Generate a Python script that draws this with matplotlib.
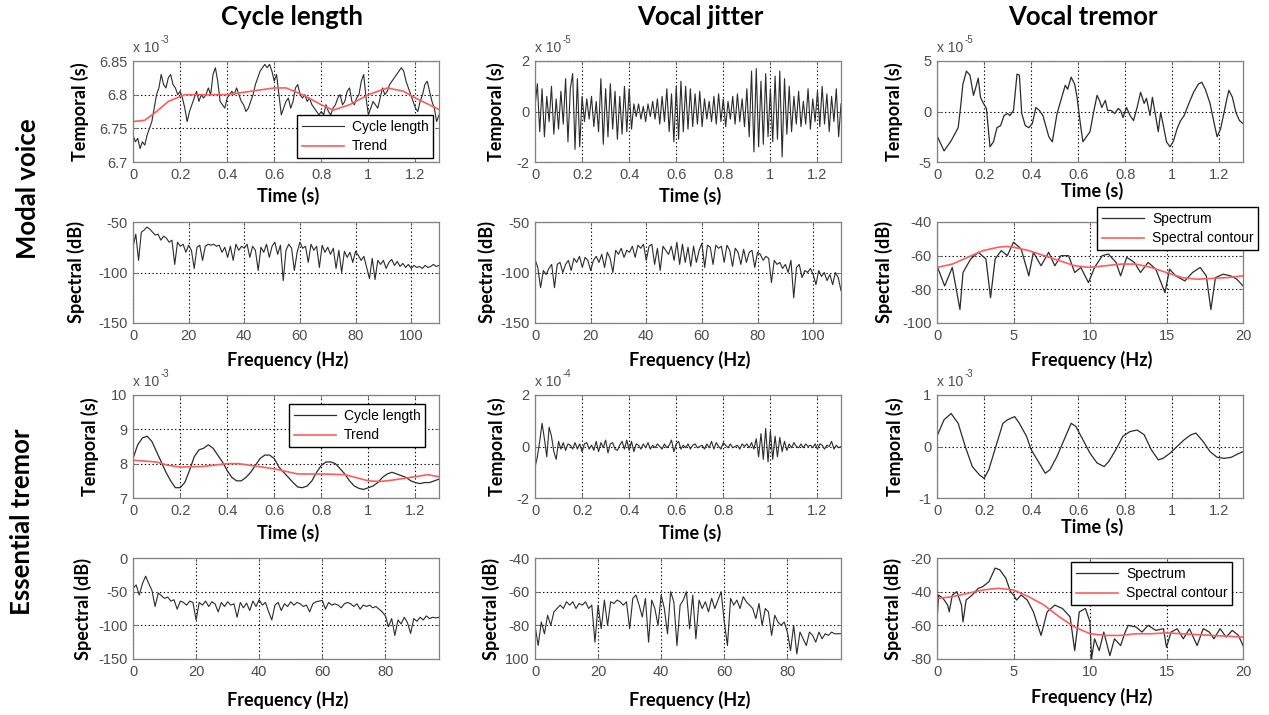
import numpy as np
import matplotlib.pyplot as plt

# ---------------- data ----------------
# modal voice, cycle length (x 1e-3 s), sampled every 0.01 s
mod_cycle = [6.74, 6.73, 6.735, 6.72, 6.73, 6.725, 6.74, 6.75, 6.76, 6.78,
             6.80, 6.81, 6.83, 6.815, 6.81, 6.825, 6.83, 6.815, 6.81, 6.80,
             6.805, 6.795, 6.78, 6.76, 6.775, 6.785, 6.795, 6.805, 6.79, 6.80,
             6.795, 6.80, 6.81, 6.80, 6.83, 6.84, 6.82, 6.79, 6.785, 6.78,
             6.795, 6.80, 6.805, 6.80, 6.81, 6.80, 6.79, 6.785, 6.775, 6.78,
             6.79, 6.80, 6.815, 6.825, 6.835, 6.84, 6.845, 6.84, 6.845, 6.835,
             6.82, 6.83, 6.80, 6.77, 6.78, 6.79, 6.795, 6.78, 6.79, 6.81,
             6.815, 6.80, 6.795, 6.80, 6.79, 6.795, 6.785, 6.78, 6.775, 6.77,
             6.775, 6.77, 6.785, 6.775, 6.77, 6.78, 6.785, 6.795, 6.80, 6.785,
             6.79, 6.805, 6.81, 6.79, 6.785, 6.795, 6.80, 6.82, 6.83, 6.795,
             6.77, 6.78, 6.79, 6.785, 6.78, 6.795, 6.81, 6.80, 6.805, 6.815,
             6.82, 6.825, 6.83, 6.835, 6.84, 6.835, 6.82, 6.81, 6.80, 6.79,
             6.78, 6.775, 6.79, 6.80, 6.815, 6.82, 6.805, 6.79, 6.78, 6.76, 6.77]
mod_trend_t = [0, 0.05, 0.1, 0.15, 0.22, 0.3, 0.4, 0.5, 0.6, 0.65, 0.72, 0.8,
               0.85, 0.92, 1.0, 1.08, 1.15, 1.2, 1.3]
mod_trend = [6.76, 6.762, 6.775, 6.79, 6.80, 6.80, 6.80, 6.805, 6.81, 6.81,
             6.80, 6.785, 6.777, 6.785, 6.80, 6.81, 6.805, 6.795, 6.778]

# modal voice, cycle length spectrum (dB), 1 Hz steps 0..110
mod_cycle_spec = [-75, -62, -88, -60, -58, -55, -57, -60, -63, -62, -68,
                  -64, -66, -70, -68, -92, -70, -74, -72, -80, -73,
                  -78, -96, -75, -73, -88, -74, -72, -73, -72, -74,
                  -73, -80, -75, -85, -74, -88, -72, -78, -74, -76,
                  -72, -85, -74, -78, -98, -75, -80, -72, -85, -74,
                  -70, -82, -73, -108, -78, -72, -76, -98, -80, -70,
                  -76, -74, -90, -72, -78, -74, -95, -73, -80, -75,
                  -82, -76, -96, -78, -100, -79, -85, -80, -90, -79,
                  -83, -88, -84, -95, -106, -86, -107, -88, -92, -88,
                  -96, -90, -87, -93, -89, -94, -91, -95, -92, -96,
                  -93, -95, -94, -96, -93, -95, -94, -92, -94, -93]

# modal voice, vocal jitter (x 1e-5 s), every 0.01 s
mod_jitter = [0.2, 1.1, -0.8, 0.9, -1.0, 0.6, -0.4, 1.0, -0.9, 0.5,
              -0.7, 0.8, -0.5, 1.3, -1.2, 0.9, 1.5, -1.5, 1.3, -1.4,
              0.6, -0.4, 0.5, -0.3, 0.6, -0.6, 0.4, -0.8, 1.3, -1.3,
              0.9, -1.0, 1.1, -0.7, 0.8, -1.1, 0.6, -0.9, 1.0, -0.8,
              0.9, -0.7, 0.3, -0.2, 0.3, -0.3, 0.2, -0.4, 0.3, -0.2,
              0.4, -0.3, 0.5, -0.5, 0.6, -0.4, 0.9, -0.8, 0.7, -1.2,
              1.0, -1.1, 1.2, -0.8, 1.0, -0.7, 0.9, -0.6, 0.7, -0.5,
              0.8, -0.6, 0.5, -0.3, 0.4, -0.4, 0.6, -0.5, 0.7, -0.4,
              0.5, -0.6, 0.4, -0.3, 0.6, -0.5, 0.7, -0.4, 0.5, -0.6,
              0.9, -1.0, 1.6, -1.6, 1.7, -1.4, 1.2, -1.3, 1.5, -1.0,
              0.9, -1.2, 1.4, -1.1, 1.6, -1.8, 1.3, -0.9, 1.0, -0.8,
              0.6, -0.5, 0.8, -0.6, 0.4, -0.5, 0.9, -0.7, 0.5, -0.4,
              0.8, -0.6, 1.0, -0.5, 0.7, -0.8, 0.6, -0.4, 0.9, -1.0, 0.3]

# modal voice, jitter spectrum (dB), 1 Hz steps 0..110
mod_jitter_spec = [-87, -95, -115, -98, -102, -96, -92, -115, -92, -90, -100,
                   -92, -88, -98, -86, -90, -84, -95, -85, -88, -98,
                   -88, -84, -90, -82, -95, -80, -86, -100, -78, -82,
                   -76, -85, -78, -80, -74, -85, -73, -76, -72, -88,
                   -74, -72, -92, -76, -98, -74, -78, -82, -74, -88,
                   -70, -92, -72, -90, -75, -94, -74, -90, -78, -71,
                   -95, -73, -75, -92, -73, -76, -74, -90, -73, -78,
                   -94, -76, -80, -92, -77, -90, -80, -78, -95, -80,
                   -82, -88, -84, -86, -110, -88, -92, -90, -96, -92,
                   -100, -88, -125, -95, -92, -105, -98, -100, -96, -102,
                   -112, -98, -104, -100, -108, -102, -112, -100, -105, -118]

# modal voice, vocal tremor (x 1e-5 s)
mod_trem_t = [0, 0.03, 0.06, 0.09, 0.10, 0.11, 0.125, 0.14, 0.155, 0.165, 0.175,
              0.185, 0.195, 0.21, 0.225, 0.24, 0.255, 0.27, 0.285, 0.30, 0.31,
              0.325, 0.34, 0.35, 0.36, 0.375, 0.39, 0.405, 0.42, 0.435, 0.45,
              0.475, 0.49, 0.51, 0.53, 0.545, 0.555, 0.57, 0.585, 0.595, 0.61,
              0.62, 0.635, 0.65, 0.665, 0.68, 0.69, 0.70, 0.715, 0.725, 0.74,
              0.755, 0.77, 0.78, 0.79, 0.805, 0.82, 0.835, 0.85, 0.865, 0.88,
              0.89, 0.905, 0.915, 0.93, 0.94, 0.95, 0.96, 0.975, 0.99, 1.005,
              1.02, 1.035, 1.05, 1.07, 1.09, 1.11, 1.125, 1.14, 1.16, 1.175,
              1.19, 1.205, 1.215, 1.23, 1.24, 1.255, 1.27, 1.285, 1.3]
mod_trem = [-2.4, -3.9, -2.9, -1.6, 0.4, 2.7, 4.0, 3.6, 1.6, 2.4, 3.3,
            1.4, 0.9, 0.3, -3.5, -3.0, -1.6, -1.4, -0.4, -0.2, -0.4,
            0.1, 3.7, 3.6, -0.2, -1.4, -1.6, -1.2, 0.4, 0.1, -0.4,
            -2.5, -3.0, -0.2, 1.4, 2.6, 2.2, 3.4, 2.7, 1.4, -1.4,
            -3.0, -2.5, -2.0, -0.1, 1.6, 1.1, 0.4, 1.1, 0.1, 0.1,
            -0.2, 0.3, 0.1, -0.6, 0.4, -0.4, -0.9, 0.4, 1.9, 0.8,
            1.3, -0.4, 1.4, -0.6, -2.0, -0.1, -1.2, -3.0, -3.5, -2.9,
            -1.7, -0.9, -0.4, 0.8, 1.9, 2.7, 2.9, 2.2, 0.8, -0.9,
            -2.5, -1.7, -0.6, 1.1, 2.1, 1.4, -0.1, -0.9, -1.2]

# modal voice, tremor spectrum and contour (dB)
mod_trem_f = [0, 0.5, 1.0, 1.5, 1.7, 2.2, 2.7, 3.2, 3.5, 3.8, 4.2, 4.6, 5.0,
              5.5, 6.0, 6.3, 6.8, 7.3, 7.7, 8.1, 8.6, 9.0, 9.4, 9.9, 10.3,
              10.8, 11.2, 11.7, 12.0, 12.4, 12.9, 13.3, 13.8, 14.3, 14.9,
              15.2, 15.6, 16.2, 16.7, 17.2, 17.6, 17.9, 18.2, 18.7, 19.2,
              19.6, 20]
mod_trem_spec = [-66, -78, -67, -92, -70, -62, -58, -62, -85, -62, -57, -60, -52,
                 -56, -72, -58, -66, -58, -66, -60, -60, -70, -67, -76, -67,
                 -60, -59, -64, -72, -61, -64, -70, -64, -68, -82,
                 -68, -72, -75, -70, -67, -72, -92, -73, -71, -72,
                 -74, -78]
mod_cont_f = [0, 1, 2, 3, 4, 4.5, 5, 6, 7, 8, 9, 10, 11, 12, 13, 14, 15, 16,
              17, 18, 19, 20]
mod_cont = [-67, -65, -61, -57, -55, -54.5, -55, -57, -60, -63, -66, -67,
            -66, -65, -65, -67, -70, -73, -74, -73.5, -73, -72]

# essential tremor, cycle length (x 1e-3 s), every 0.02 s
et_cycle = [8.15, 8.55, 8.75, 8.8, 8.65, 8.35, 8.05, 7.75, 7.5, 7.3,
            7.3, 7.45, 7.8, 8.2, 8.4, 8.45, 8.55, 8.45, 8.25, 8.05,
            7.8, 7.6, 7.5, 7.5, 7.6, 7.75, 7.95, 8.15, 8.25, 8.25,
            8.15, 7.9, 7.75, 7.6, 7.45, 7.32, 7.3, 7.35, 7.5, 7.75,
            7.95, 8.05, 8.05, 8.0, 7.85, 7.7, 7.5, 7.35, 7.28, 7.25,
            7.3, 7.35, 7.45, 7.6, 7.7, 7.75, 7.7, 7.65, 7.6, 7.5,
            7.45, 7.42, 7.45, 7.45, 7.5, 7.55]
et_trend_t = [0, 0.1, 0.15, 0.2, 0.3, 0.4, 0.45, 0.5, 0.6, 0.7, 0.8, 0.9,
              1.0, 1.05, 1.1, 1.2, 1.25, 1.3]
et_trend = [8.1, 8.05, 7.95, 7.9, 7.92, 8.0, 8.0, 7.95, 7.85, 7.7, 7.7, 7.68,
            7.5, 7.48, 7.52, 7.62, 7.68, 7.62]

# essential tremor, cycle length spectrum (dB), 1 Hz steps 0..97
et_cycle_spec = [-45, -40, -55, -38, -27, -38, -48, -72, -52, -56, -60,
                 -58, -64, -62, -76, -64, -66, -70, -64, -66, -92,
                 -66, -70, -64, -72, -65, -68, -80, -66, -72, -65,
                 -70, -68, -88, -66, -74, -67, -78, -64, -72, -62,
                 -70, -66, -80, -92, -70, -66, -78, -68, -72, -65,
                 -70, -66, -68, -72, -70, -80, -68, -65, -64, -63,
                 -76, -66, -70, -68, -70, -74, -68, -66, -68, -72,
                 -68, -76, -70, -72, -70, -74, -72, -76, -80, -86,
                 -102, -90, -115, -92, -98, -88, -96, -112, -90, -94,
                 -88, -92, -86, -90, -88, -89, -88]

# essential tremor, vocal jitter (x 1e-4 s), every 0.01 s
et_jitter = [-0.8, -0.4, 0.2, 0.9, 0.3, -0.4, 0.75, 0.4, -0.2, -0.5,
             0.2, -0.1, 0.15, -0.15, 0.1, 0.05, -0.1, 0.15, -0.1, 0.1,
             -0.2, 0.1, 0.15, -0.1, 0.05, -0.15, 0.2, -0.2, 0.15, -0.05,
             0.25, -0.25, 0.1, 0.15, -0.1, -0.15, 0.05, 0.2, -0.1, 0.25,
             -0.15, 0.2, -0.2, 0.1, 0.05, -0.1, 0.1, -0.05, 0.15, -0.1,
             0.05, -0.05, 0.1, 0.0, -0.1, 0.1, -0.05, 0.05, 0.25, -0.2,
             0.1, 0.2, -0.1, 0.05, -0.05, 0.1, -0.1, 0.05, 0.1, -0.05,
             0.0, 0.05, -0.1, 0.1, -0.05, 0.2, -0.1, 0.15, 0.0, -0.1,
             0.15, 0.05, -0.05, 0.1, -0.05, 0.0, 0.05, -0.1, 0.1, 0.0,
             0.1, -0.05, 0.15, -0.1, 0.3, -0.4, 0.5, -0.5, 0.7, -0.6,
             0.6, -0.5, 0.4, -0.4, 0.35, -0.2, 0.2, -0.15, 0.1, -0.05,
             0.15, 0.0, -0.05, 0.1, -0.05, 0.1, 0.0, 0.05, -0.05, 0.1,
             -0.1, 0.1, 0.05, -0.1, 0.05, 0.0, 0.2, -0.1, 0.05, -0.05, 0.0]

# essential tremor, jitter spectrum (dB), 1 Hz steps 0..97
et_jitter_spec = [-80, -92, -78, -85, -74, -80, -72, -70, -68, -70, -66,
                  -68, -66, -70, -67, -68, -66, -70, -68, -90, -68,
                  -82, -65, -80, -66, -67, -65, -66, -68, -66, -82,
                  -64, -62, -68, -75, -64, -90, -65, -70, -80, -62,
                  -70, -85, -60, -66, -92, -68, -65, -60, -82, -62,
                  -88, -65, -70, -66, -72, -64, -70, -65, -60, -78,
                  -92, -64, -68, -65, -70, -63, -66, -68, -70, -76,
                  -67, -80, -70, -72, -86, -74, -78, -80, -78, -84,
                  -95, -80, -97, -84, -88, -92, -84, -86, -90, -84,
                  -88, -85, -86, -84, -85, -85, -85]

# essential tremor, vocal tremor (x 1e-3 s)
et_trem_t = [0, 0.03, 0.06, 0.09, 0.12, 0.15, 0.18, 0.2, 0.22, 0.25, 0.28,
             0.30, 0.33, 0.35, 0.38, 0.40, 0.43, 0.46, 0.48, 0.51, 0.54,
             0.57, 0.59, 0.62, 0.65, 0.68, 0.71, 0.73, 0.76, 0.79, 0.82,
             0.85, 0.88, 0.91, 0.94, 0.96, 0.99, 1.02, 1.05, 1.08, 1.1,
             1.13, 1.16, 1.19, 1.22, 1.25, 1.28, 1.3]
et_trem = [0.2, 0.52, 0.64, 0.45, 0.0, -0.39, -0.55, -0.62, -0.45, 0.0, 0.45,
           0.52, 0.58, 0.45, 0.2, -0.06, -0.29, -0.52, -0.45, -0.19, 0.13,
           0.45, 0.39, 0.13, -0.13, -0.32, -0.39, -0.29, -0.06, 0.2, 0.29,
           0.32, 0.23, -0.06, -0.26, -0.23, -0.13, 0.0, 0.13, 0.23, 0.26,
           0.1, -0.1, -0.21, -0.23, -0.21, -0.14, -0.1]

# essential tremor, tremor spectrum and contour (dB)
et_trem_f = [0, 0.1, 0.4, 0.7, 0.8, 1.0, 1.3, 1.6, 1.7, 1.9, 2.3, 2.7, 3.0,
             3.4, 3.8, 4.1, 4.5, 4.8, 5.0, 5.2, 5.5, 5.9, 6.3, 6.8, 7.2,
             7.7, 8.2, 8.7, 9.0, 9.3, 9.7, 10.0, 10.1, 10.3, 10.6, 10.9,
             11.3, 11.6, 12.0, 12.3, 12.5, 13.0, 13.4, 13.8, 14.3, 14.8,
             15.0, 15.3, 15.7, 16.1, 16.5, 17.0, 17.4, 17.8, 18.1, 18.5,
             18.9, 19.3, 19.7, 20]
et_trem_spec = [-58, -42, -44, -48, -52, -42, -40, -48, -58, -45, -42, -38, -37,
                -34, -26, -27, -32, -40, -42, -45, -42, -45, -52, -66, -52,
                -48, -50, -55, -75, -52, -50, -58, -80, -68, -75, -64,
                -78, -68, -72, -64, -60, -61, -64, -60, -63, -62,
                -73, -64, -62, -68, -62, -72, -62, -64, -68, -62,
                -67, -63, -66, -72]
et_cont_f = [0, 1, 2, 3, 4, 5, 6, 7, 8, 9, 10, 11, 12, 13, 14, 15, 16, 17,
             18, 19, 20]
et_cont = [-44, -43, -41, -39, -38, -39, -43, -48, -55, -61, -65, -66, -66,
           -65, -65, -64.5, -65, -65.5, -66, -66.5, -67]

# ---------------- figure ----------------
W, H = 1269, 715
fig = plt.figure(figsize=(W / 100, H / 100), dpi=100)

BOLD = 'Lato'
TICK = 'Liberation Sans'
LINE = '#2b2b2b'
RED = '#ff5c5c'
GRAY = '#4d4d4d'

col_left = [133, 535, 937]
row_top = [61, 222, 395, 558]
row_bot = [162, 323, 498, 659]
AW = 306


def fx(px):
    return px / W


def fy(py):
    return 1 - py / H


def make_axes(c, r, xlim, xticks, ylim, yticks, xtl=None, ytl=None):
    left = col_left[c]
    ax = fig.add_axes([fx(left), fy(row_bot[r]), AW / W,
                       (row_bot[r] - row_top[r]) / H])
    ax.set_xlim(xlim)
    ax.set_ylim(ylim)
    ax.set_xticks(xticks)
    ax.set_yticks(yticks)
    ax.set_xticklabels(xtl if xtl else ['%g' % v for v in xticks])
    ax.set_yticklabels(ytl if ytl else ['%g' % v for v in yticks])
    ax.tick_params(direction='in', length=3, width=0.6, colors='#666666',
                   labelcolor=GRAY, labelsize=10.5, top=True, right=True, pad=4)
    for lab in ax.get_xticklabels() + ax.get_yticklabels():
        lab.set_fontfamily(TICK)
    for s in ax.spines.values():
        s.set_color('#808080')
        s.set_linewidth(0.9)
    ax.grid(True, color='k', linestyle=(0, (1.2, 2.2)), linewidth=0.8)
    return ax


def offset_text(c, r, exp):
    left = col_left[c]
    top = row_top[r]
    fig.text(fx(left), fy(top - 13), 'x 10', fontsize=10, family=TICK,
             color=GRAY, ha='left', va='center')
    fig.text(fx(left + 28), fy(top - 21), exp, fontsize=7, family=TICK,
             color=GRAY, ha='left', va='center')


def labels(c, r, xlab, ylab, xlab_y, ylab_x):
    left = col_left[c]
    fig.text(fx(left + AW / 2 + 2), fy(xlab_y), xlab, fontsize=13,
             family=BOLD, weight='bold', ha='center', va='center')
    fig.text(fx(ylab_x), fy((row_top[r] + row_bot[r]) / 2), ylab,
             fontsize=13, family=BOLD, weight='bold', rotation=90,
             ha='center', va='center')


def add_legend(ax, x, y):
    ax.legend(loc='upper left', bbox_to_anchor=(fx(x), fy(y)),
              bbox_transform=fig.transFigure, borderaxespad=0, fancybox=False,
              edgecolor='k', framealpha=1, handlelength=3.0, borderpad=0.35,
              labelspacing=0.4, handletextpad=0.6,
              prop={'family': TICK, 'size': 10})


time_ticks = [0, 0.2, 0.4, 0.6, 0.8, 1.0, 1.2]
time_tl = ['0', '0.2', '0.4', '0.6', '0.8', '1', '1.2']

# --- modal voice, cycle length ---
ax = make_axes(0, 0, (0, 1.3), time_ticks, (6.7, 6.85),
               [6.7, 6.75, 6.8, 6.85], xtl=time_tl,
               ytl=['6.7', '6.75', '6.8', '6.85'])
t = np.arange(len(mod_cycle)) * 0.01
ax.plot(t, mod_cycle, color=LINE, lw=0.8, label='Cycle length')
ax.plot(mod_trend_t, mod_trend, color=RED, lw=1.2, label='Trend')
add_legend(ax, 297, 115)
offset_text(0, 0, '-3')
labels(0, 0, 'Time (s)', 'Temporal (s)', 196, 80)

ax = make_axes(0, 1, (0, 110), [0, 20, 40, 60, 80, 100], (-150, -50),
               [-150, -100, -50])
ax.plot(np.arange(len(mod_cycle_spec)), mod_cycle_spec, color=LINE, lw=0.8)
labels(0, 1, 'Frequency (Hz)', 'Spectral (dB)', 360, 76)

# --- modal voice, vocal jitter ---
ax = make_axes(1, 0, (0, 1.3), time_ticks, (-2, 2), [-2, 0, 2], xtl=time_tl)
t = np.arange(len(mod_jitter)) * 0.01
ax.plot(t, mod_jitter, color=LINE, lw=0.8)
ax.axhline(2, color='k', linestyle=(0, (1.2, 2.2)), lw=0.8, clip_on=False)
offset_text(1, 0, '-5')
labels(1, 0, 'Time (s)', 'Temporal (s)', 196, 496)

ax = make_axes(1, 1, (0, 110), [0, 20, 40, 60, 80, 100], (-150, -50),
               [-150, -100, -50])
ax.plot(np.arange(len(mod_jitter_spec)), mod_jitter_spec, color=LINE, lw=0.8)
labels(1, 1, 'Frequency (Hz)', 'Spectral (dB)', 360, 487)

# --- modal voice, vocal tremor ---
ax = make_axes(2, 0, (0, 1.3), time_ticks, (-5, 5), [-5, 0, 5], xtl=time_tl)
ax.plot(mod_trem_t, mod_trem, color=LINE, lw=0.9)
offset_text(2, 0, '-5')
labels(2, 0, 'Time (s)', 'Temporal (s)', 191, 894)

ax = make_axes(2, 1, (0, 20), [0, 5, 10, 15, 20], (-100, -40),
               [-100, -80, -60, -40])
ax.plot(mod_trem_f, mod_trem_spec, color=LINE, lw=0.9, label='Spectrum')
ax.plot(mod_cont_f, mod_cont, color=RED, lw=1.2, label='Spectral contour')
add_legend(ax, 1097, 207)
labels(2, 1, 'Frequency (Hz)', 'Spectral (dB)', 360, 884)

# --- essential tremor, cycle length ---
ax = make_axes(0, 2, (0, 1.3), time_ticks, (7, 10), [7, 8, 9, 10],
               xtl=time_tl)
t = np.arange(len(et_cycle)) * 0.02
ax.plot(t, et_cycle, color=LINE, lw=0.9, label='Cycle length')
ax.plot(et_trend_t, et_trend, color=RED, lw=1.2, label='Trend')
add_legend(ax, 289, 404)
offset_text(0, 2, '-3')
labels(0, 2, 'Time (s)', 'Temporal (s)', 533, 90)

ax = make_axes(0, 3, (0, 97), [0, 20, 40, 60, 80], (-150, 0),
               [-150, -100, -50, 0])
ax.plot(np.arange(len(et_cycle_spec)), et_cycle_spec, color=LINE, lw=0.8)
labels(0, 3, 'Frequency (Hz)', 'Spectral (dB)', 700, 83)

# --- essential tremor, vocal jitter ---
ax = make_axes(1, 2, (0, 1.3), time_ticks, (-2, 2), [-2, 0, 2], xtl=time_tl)
t = np.arange(len(et_jitter)) * 0.01
ax.plot(t, et_jitter, color=LINE, lw=0.8)
offset_text(1, 2, '-4')
labels(1, 2, 'Time (s)', 'Temporal (s)', 533, 497)

ax = make_axes(1, 3, (0, 97), [0, 20, 40, 60, 80], (-100, -40),
               [-100, -80, -60, -40], ytl=['100', '-80', '-60', '-40'])
ax.plot(np.arange(len(et_jitter_spec)), et_jitter_spec, color=LINE, lw=0.8)
labels(1, 3, 'Frequency (Hz)', 'Spectral (dB)', 700, 491)

# --- essential tremor, vocal tremor ---
ax = make_axes(2, 2, (0, 1.3), time_ticks, (-1, 1), [-1, 0, 1], xtl=time_tl)
ax.plot(et_trem_t, et_trem, color=LINE, lw=0.9)
offset_text(2, 2, '-3')
labels(2, 2, 'Time (s)', 'Temporal (s)', 527, 895)

ax = make_axes(2, 3, (0, 20), [0, 5, 10, 15, 20], (-80, -20),
               [-80, -60, -40, -20])
ax.plot(et_trem_f, et_trem_spec, color=LINE, lw=0.9, label='Spectrum')
ax.plot(et_cont_f, et_cont, color=RED, lw=1.2, label='Spectral contour')
add_legend(ax, 1071, 562)
labels(2, 3, 'Frequency (Hz)', 'Spectral (dB)', 697, 893)

# column and row titles
for x, s in [(292, 'Cycle length'), (700, 'Vocal jitter'), (1083, 'Vocal tremor')]:
    fig.text(fx(x), fy(17), s, fontsize=18.5, family=BOLD, weight='bold',
             ha='center', va='center')
fig.text(fx(28), fy(189), 'Modal voice', fontsize=18.5, family=BOLD,
         weight='bold', rotation=90, ha='center', va='center')
fig.text(fx(22), fy(522), 'Essential tremor', fontsize=18.5, family=BOLD,
         weight='bold', rotation=90, ha='center', va='center')

fig.savefig('out.png', dpi=100, facecolor='white')
